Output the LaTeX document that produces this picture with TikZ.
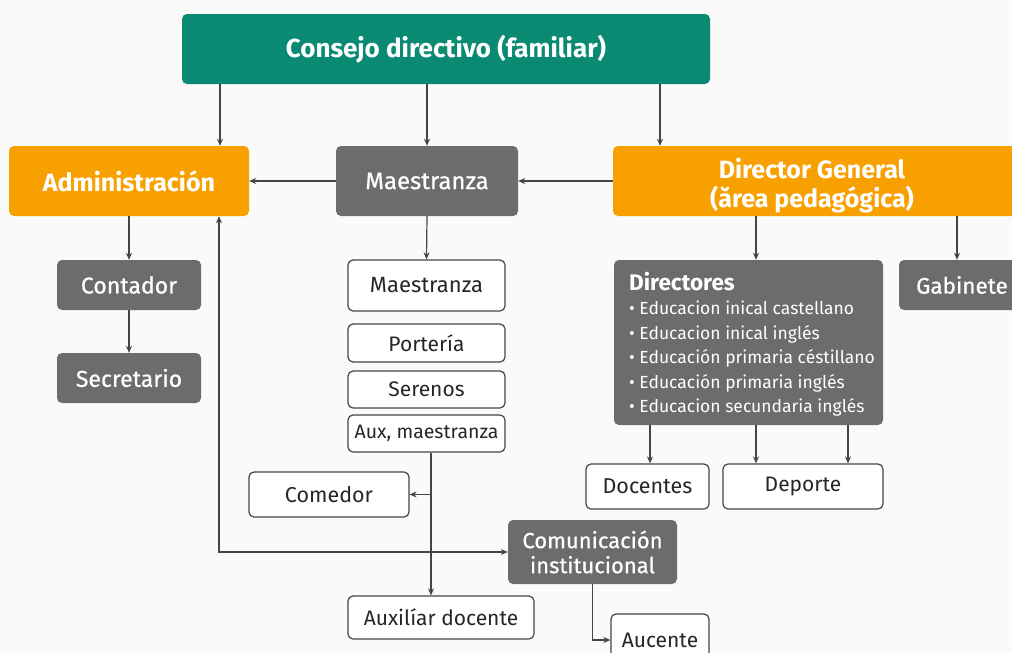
\documentclass[tikz,border=0pt]{standalone}
\usepackage{fontspec}
\setmainfont{Fira Sans}
\newfontfamily\medfont{Fira Sans}[FakeBold=0.6]
\usetikzlibrary{arrows.meta}
\definecolor{teal1}{HTML}{0B8A73}
\definecolor{orange1}{HTML}{F8A000}
\definecolor{gray1}{HTML}{6C6C6F}
\definecolor{line1}{HTML}{454545}
\definecolor{bg1}{HTML}{FAFAFA}
\tikzset{
  box/.style={rounded corners=5pt, align=center, inner sep=0pt},
  tealbox/.style={box, fill=teal1, text=white, font=\fontsize{26}{30}\selectfont\bfseries},
  orangebox/.style={box, fill=orange1, text=white, font=\fontsize{25}{29}\selectfont\bfseries},
  graybox/.style={box, fill=gray1, text=white, font=\medfont\fontsize{23}{26}\selectfont},
  whitebox/.style={box, draw=line1, line width=1.2pt, fill=white, text=black!85, font=\fontsize{21.5}{24}\selectfont},
  arr/.style={draw=line1, line width=1.2pt, -{Stealth[length=7pt,width=6pt]}},
  arrb/.style={draw=line1, line width=1.2pt, {Stealth[length=7pt,width=6pt]}-{Stealth[length=7pt,width=6pt]}},
}
\begin{document}
\begin{tikzpicture}[x=1pt,y=-1pt]
\useasboundingbox (0,0) rectangle (1012,653);
\clip (0,0) rectangle (1012,653);
\fill[bg1] (0,0) rectangle (1012,653);
% x positions
\coordinate (xa) at (220,0);
\coordinate (xdg) at (660,0);
\coordinate (xd1) at (756,0);
\coordinate (xgab) at (957,0);
\coordinate (xdoc) at (650,0);
\coordinate (xdep2) at (848,0);
\coordinate (xaux) at (431,0);
\coordinate (xadm) at (219,0);
% nodes
\node[tealbox, minimum width=528, minimum height=70] (consejo) at (446,49) {Consejo directivo (familiar)};
\node[orangebox, minimum width=240, minimum height=70] (admin) at (129,181) {Administración};
\node[graybox, minimum width=182, minimum height=70, font=\medfont\fontsize{24}{26}\selectfont] (maes) at (427,181) {Maestranza};
\node[orangebox, minimum width=410, minimum height=70] (dirgen) at (818,181) {};
\node[orangebox, fill=none] (dgtext) at (812,186) {Director General\\(ărea pedagógica)};
\node[graybox, minimum width=144, minimum height=50] (contador) at (129,285) {Contador};
\node[graybox, minimum width=144, minimum height=50] (secretario) at (129,378) {Secretario};
\node[whitebox, minimum width=157, minimum height=51, font=\fontsize{22}{24}\selectfont] (maesw) at (426.5,285.5) {Maestranza};
\node[whitebox, minimum width=157, minimum height=38, font=\fontsize{21}{24}\selectfont] (porteria) at (426.5,343) {Portería};
\node[whitebox, minimum width=157, minimum height=37, font=\fontsize{21}{24}\selectfont] (serenos) at (426.5,389.5) {Serenos};
\node[whitebox, minimum width=157, minimum height=37, font=\fontsize{19.5}{22}\selectfont] (auxm) at (426.5,433.5) {Aux, maestranza};
\node[whitebox, minimum width=160, minimum height=45] (comedor) at (329,494.5) {Comedor};
\node[whitebox, minimum width=186, minimum height=43, font=\fontsize{21}{24}\selectfont] (auxdoc) at (441,617.5) {Auxilíar docente};
\node[graybox, minimum width=169, minimum height=64, font=\medfont\fontsize{22}{25}\selectfont] (comun) at (592.5,552) {Comunicación\\institucional};
\node[whitebox, minimum width=98, minimum height=52, font=\fontsize{21}{24}\selectfont] (aucente) at (660,640) {Aucente};
\node[graybox, minimum width=269, minimum height=165] (directores) at (748.5,342.5) {};
\node[anchor=north west, align=left, inner sep=0pt, text=white, font=\fontsize{17.5}{24.5}\selectfont] (dirtext) at (629,272)
  {{\fontsize{22.5}{24}\selectfont\bfseries Directores}\\
   • Educacion inical castellano\\
   • Educacion inical inglés\\
   • Educación primaria céstillano\\
   • Educación primaria inglés\\
   • Educacion secundaria inglés};
\node[graybox, minimum width=126, minimum height=50, font=\medfont\fontsize{22.5}{26}\selectfont] (gabinete) at (962,285) {Gabinete};
\node[whitebox, minimum width=123, minimum height=45] (docentes) at (647.5,486.5) {Docentes};
\node[whitebox, minimum width=160, minimum height=45, font=\fontsize{21}{24}\selectfont] (deporte) at (803,486.5) {Deporte};
% connectors
\draw[arr] (consejo.south -| xa) -- (admin.north -| xa);
\draw[arr] (consejo.south -| maes.north) -- (maes.north);
\draw[arr] (consejo.south -| xdg) -- (dirgen.north -| xdg);
\draw[arr] (maes.west) -- (admin.east);
\draw[arr] (dirgen.west) -- (maes.east);
\draw[arr] (admin.south -| contador.north) -- (contador.north);
\draw[arr] (contador.south) -- (secretario.north);
\draw[arr] (maes.south) -- (maesw.north);
\draw[arr] (dirgen.south -| xd1) -- (directores.north -| xd1);
\draw[arr] (dirgen.south -| xgab) -- (gabinete.north -| xgab);
\draw[arr] (directores.south -| xdoc) -- (docentes.north -| xdoc);
\draw[arr] (directores.south -| xd1) -- (deporte.north -| xd1);
\draw[arr] (directores.south -| xdep2) -- (deporte.north -| xdep2);
\draw[arr] (auxm.south -| xaux) -- (auxdoc.north -| xaux);
\draw[arr] (comedor.east -| xaux) -- (comedor.east);
\draw[arrb] (admin.south -| xadm) |- (comun.west);
\draw[arr] (comun.south) |- (aucente.west);
\end{tikzpicture}
\end{document}
